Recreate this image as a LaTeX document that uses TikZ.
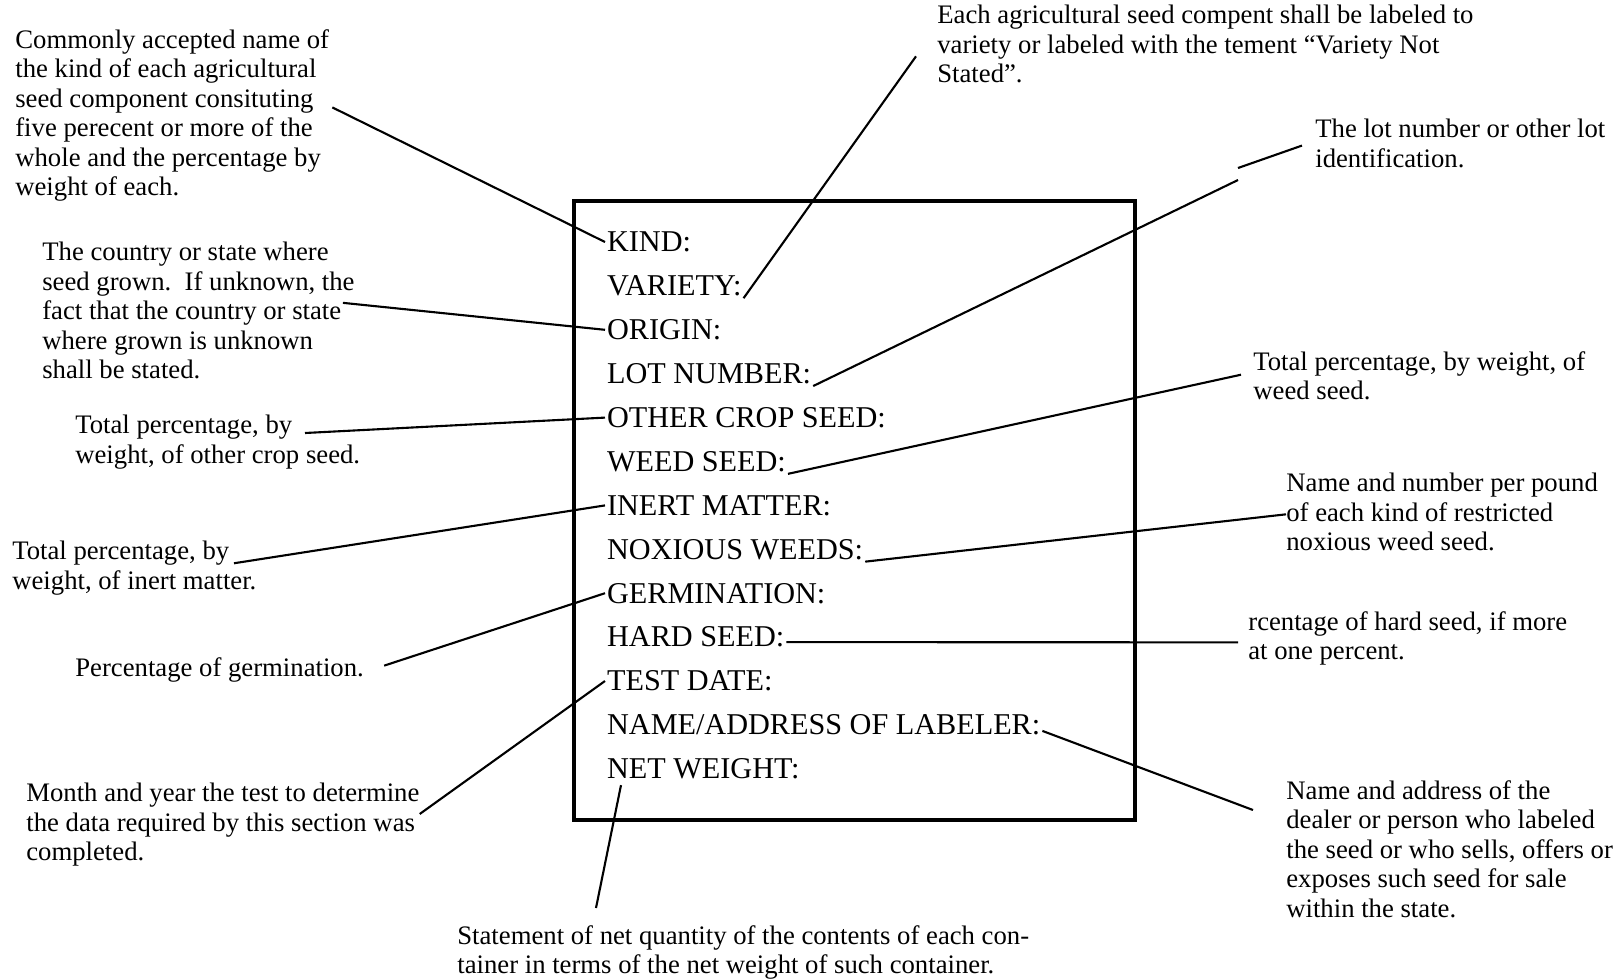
\documentclass[tikz,border=0pt]{standalone}
\usepackage{fontspec}
\setmainfont{Liberation Serif}
\usetikzlibrary{calc}
\tikzset{
  fieldlbl/.style={anchor=west, inner sep=1pt, font=\fontsize{17.2}{20}\selectfont},
  notetxt/.style={anchor=north west, inner sep=0pt, align=left, font=\fontsize{15.2}{16.8}\selectfont},
  leader/.style={line width=1.2pt},
}

\begin{document}
\begin{tikzpicture}[x=0.02cm, y=-0.02cm]
  % page in pixels: 1617 x 978, y grows downward
  \useasboundingbox (0,0) rectangle (1617,978);

  % Label box
  \draw[line width=2.4pt] (574,201) rectangle (1135,820);

  % Field lines inside the box
  \foreach \i/\t in {1/KIND:, 2/VARIETY:, 3/ORIGIN:, 4/LOT NUMBER:, 5/OTHER CROP SEED:,
      6/WEED SEED:, 7/INERT MATTER:, 8/NOXIOUS WEEDS:, 9/GERMINATION:, 10/HARD SEED:,
      11/TEST DATE:, 12/{NAME/ADDRESS OF LABELER:}, 13/NET WEIGHT:}{
    \node[fieldlbl] (f\i) at (605,{198.1+43.9*\i}) {\t};
  }

  % Notes, left side
  \node[notetxt] (n1) at (15,29) {Commonly accepted name of\\the kind of each agricultural\\seed component consituting\\five perecent or more of the\\whole and the percentage by\\weight of each.};
  \node[notetxt] (n3) at (42,242) {The country or state where\\seed grown.\ \ If unknown, the\\fact that the country or state\\where grown is unknown\\shall be stated.};
  \node[notetxt] (n5) at (75,415) {Total percentage, by\\weight, of other crop seed.};
  \node[notetxt] (n7) at (12,541) {Total percentage, by\\weight, of inert matter.};
  \node[notetxt] (n9) at (75,657) {Percentage of germination.};
  \node[notetxt] (n11) at (26,783) {Month and year the test to determine\\the data required by this section was\\completed.};

  % Notes, top and right side
  \node[notetxt] (n2) at (937,5) {Each agricultural seed compent shall be labeled to\\variety or labeled with the tement ``Variety Not\\Stated''.};
  \node[notetxt] (n4) at (1315,119) {The lot number or other lot\\identification.};
  \node[notetxt] (n6) at (1253,351) {Total percentage, by weight, of\\weed seed.};
  \node[notetxt] (n8) at (1286,473) {Name and number per pound\\of each kind of restricted\\noxious weed seed.};
  \node[notetxt] (n10) at (1248,611) {rcentage of hard seed, if more\\at one percent.};
  \node[notetxt] (n12) at (1286,780) {Name and address of the\\dealer or person who labeled\\the seed or who sells, offers or\\exposes such seed for sale\\within the state.};

  % Note, bottom
  \node[notetxt] (n13) at (457,925) {Statement of net quantity of the contents of each con-\\tainer in terms of the net weight of such container.};

  % Leader lines
  \draw[leader] ($(n1.east)+(3,-8)$) -- (f1.west);
  \draw[leader] ($(n2.west)+(-21,12)$) -- (f2.south east);
  \draw[leader] ($(n3.east)+(-12,-8)$) -- (f3.west);
  \coordinate (lotgap) at (1238,180);
  \draw[leader] (f4.south east) -- (lotgap);
  \draw[leader] ($(lotgap)+(0,-12)$) -- ($(n4.west)+(-13,2)$);
  \draw[leader] ($(n5.north west)+(230,18)$) -- (f5.west);
  \draw[leader] (f6.south east) -- ($(n6.west)+(-12,-1)$);
  \draw[leader] ($(n7.west)+(222,-5)$) -- (f7.west);
  \draw[leader] (f8.south east) -- ($(n8.west)+(0,2)$);
  \draw[leader] ($(n9.east)+(20,-4)$) -- (f9.west);
  \draw[leader] ($(f10.east)+(0,5)$) -- ($(n10.west)+(-10,4)$);
  \draw[leader] ($(n11.east)+(0,-11)$) -- (f11.west);
  \draw[leader] ($(f12.east)+(0,6)$) -- ($(n12.north west)+(-33,30)$);
  \draw[leader] ($(f13.south west)+(16,4)$) -- ($(n13.north west)+(139,-17)$);
\end{tikzpicture}
\end{document}
